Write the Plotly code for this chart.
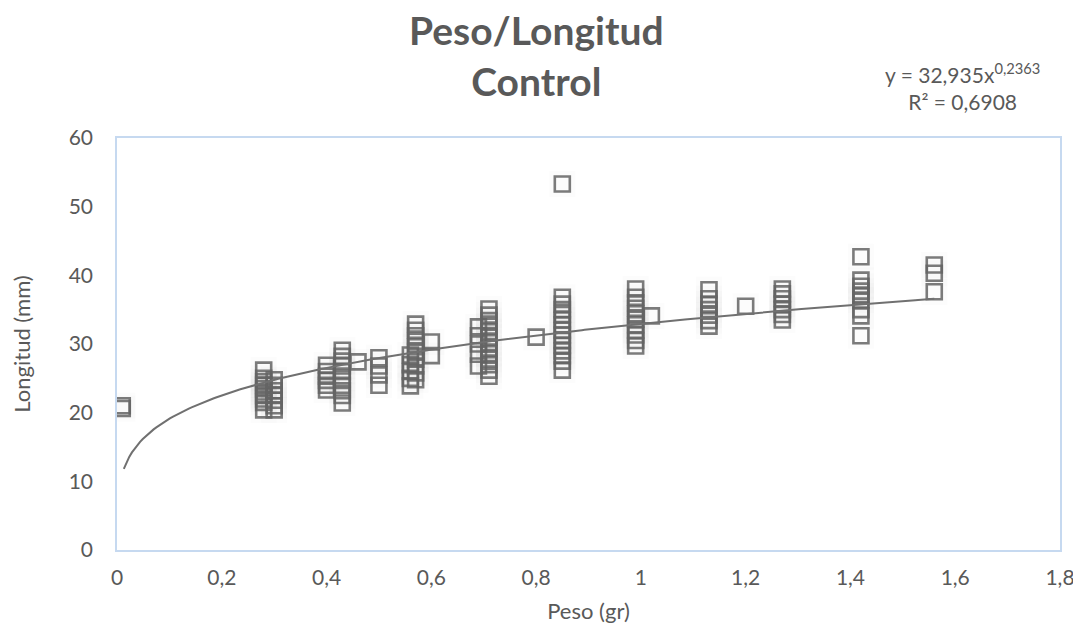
import numpy as np
import plotly.graph_objects as go

# Data: weight groups (g) and lengths (mm)
peso_grupos = [0.01, 0.28, 0.30, 0.40, 0.43, 0.46, 0.50, 0.56, 0.57, 0.60,
               0.69, 0.71, 0.80, 0.85, 0.99, 1.02, 1.13, 1.20, 1.27, 1.42, 1.56]
longitudes = [
    [20.6, 21.0],
    [20.4, 21.5, 22.0, 22.5, 23.0, 23.5, 24.0, 24.5, 25.0, 26.2],
    [20.4, 21.0, 21.8, 22.5, 23.2, 24.0, 24.8],
    [23.3, 24.0, 24.7, 25.3, 26.0, 26.9],
    [21.4, 22.5, 23.2, 24.0, 25.0, 26.0, 26.8, 27.5, 28.2, 29.1],
    [27.4],
    [24.0, 25.5, 26.8, 28.0],
    [23.9, 25.0, 26.0, 27.0, 28.4],
    [24.8, 25.8, 26.8, 27.8, 28.8, 29.6, 30.4, 31.2, 32.0, 32.9],
    [28.3, 30.3],
    [26.8, 28.5, 30.0, 31.2, 32.5],
    [25.3, 26.2, 27.0, 27.8, 28.6, 29.4, 30.2, 31.0, 31.8, 32.6, 33.4, 34.2, 35.1],
    [31.0],
    [26.2, 27.5, 28.3, 29.0, 29.8, 30.5, 31.3, 32.0, 32.8, 33.5, 34.3, 35.0, 35.8, 36.8, 53.3],
    [29.7, 30.5, 31.3, 32.0, 32.8, 33.6, 34.4, 35.2, 36.0, 36.8, 38.0],
    [34.1],
    [32.6, 33.4, 34.2, 35.0, 35.8, 36.6, 37.9],
    [35.5],
    [33.5, 34.3, 35.0, 35.8, 36.6, 37.3, 38.0],
    [31.2, 34.1, 35.0, 36.4, 37.0, 37.7, 38.4, 39.3, 42.7],
    [37.6, 40.3, 41.5],
]

# Power trendline reported on the chart: y = a * x^b
coef_a = 32.935
coef_b = 0.2363
trend_x_range = [0.013, 1.56]

x_ticks = [0, 0.2, 0.4, 0.6, 0.8, 1.0, 1.2, 1.4, 1.6, 1.8]
x_tick_labels = ["0", "0,2", "0,4", "0,6", "0,8", "1", "1,2", "1,4", "1,6", "1,8"]
y_ticks = [0, 10, 20, 30, 40, 50, 60]

xs, ys = [], []
for p, vals in zip(peso_grupos, longitudes):
    for v in vals:
        xs.append(p)
        ys.append(v)

tx = np.linspace(trend_x_range[0], trend_x_range[1], 300)
ty = coef_a * tx ** coef_b

FONT = "Lato, 'Open Sans', sans-serif"
GREY = "#595959"

fig = go.Figure()
# faint glow
fig.add_trace(go.Scatter(
    x=xs, y=ys, mode="markers", hoverinfo="skip", showlegend=False,
    marker=dict(symbol="square", size=26, color="rgba(180,180,180,0.04)",
                line=dict(width=0))))
fig.add_trace(go.Scatter(
    x=xs, y=ys, mode="markers", showlegend=False,
    marker=dict(symbol="square-open", size=15, color="rgba(100,100,100,0.85)",
                line=dict(width=2.6))))
fig.add_trace(go.Scatter(
    x=tx, y=ty, mode="lines", showlegend=False,
    line=dict(color="#707070", width=2)))

axis_line = "#c6d9f0"
# page body has an 8px margin, so the figure is drawn offset by 8px
fig.update_layout(
    width=1073, height=616,
    paper_bgcolor="white", plot_bgcolor="white",
    margin=dict(l=109, r=21, t=130, b=74),
    font=dict(family=FONT, color=GREY, size=21),
    xaxis=dict(range=[0, 1.8], tickvals=x_ticks, ticktext=x_tick_labels,
               showgrid=False, zeroline=False, showline=True, mirror=True,
               linecolor=axis_line, linewidth=1.5,
               ticks="outside", ticklen=8, tickcolor="rgba(0,0,0,0)",
               automargin=False,
               tickfont=dict(size=21, color=GREY),
               title=dict(text="Peso (gr)", font=dict(size=22, color=GREY), standoff=22)),
    yaxis=dict(range=[0, 60], tickvals=y_ticks,
               showgrid=False, zeroline=False, showline=True, mirror=True,
               linecolor=axis_line, linewidth=1.5,
               ticks="outside", ticklen=18, tickcolor="rgba(0,0,0,0)",
               automargin=False,
               tickfont=dict(size=21, color=GREY),
               title=dict(text="Longitud (mm)", font=dict(size=22, color=GREY), standoff=32)),
    annotations=[
        dict(text="<b>Peso/Longitud<br>Control</b>", xref="paper", yref="paper",
             x=0.4445, y=1.2, xanchor="center", yanchor="middle", showarrow=False,
             align="center", font=dict(family=FONT, size=39, color=GREY)),
        dict(text="y = 32,935x<sup>0,2363</sup><br>R² = 0,6908", xref="paper", yref="paper",
             x=0.897, y=1.124, xanchor="center", yanchor="middle", showarrow=False,
             align="center", font=dict(family=FONT, size=21, color=GREY)),
    ],
)

fig.write_html("out.html")
